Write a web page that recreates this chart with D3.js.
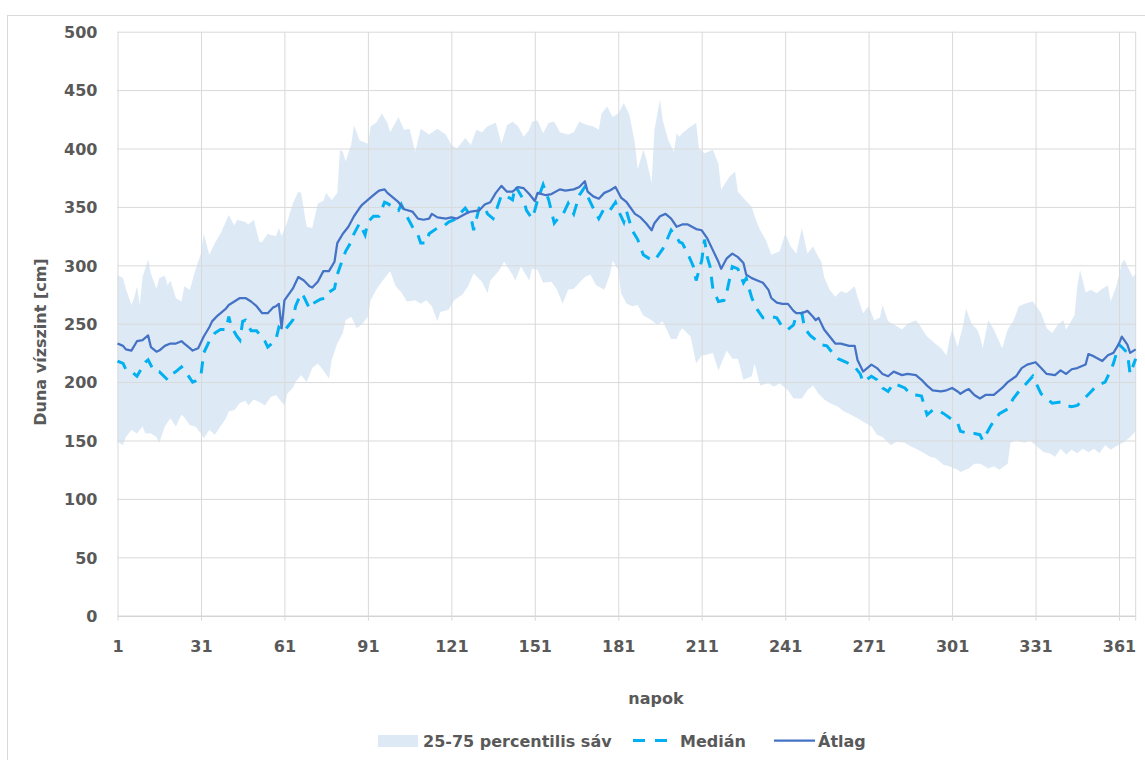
<!DOCTYPE html>
<html>
<head>
<meta charset="utf-8">
<script src="https://cdn.jsdelivr.net/npm/d3@7"></script>
<style>
  body { margin: 0; background: #fff; }
  text { font-family: "DejaVu Sans", sans-serif; font-weight: bold; fill: #595959; }
</style>
</head>
<body>
<div id="chart"></div>
<script>
// Tick values
var xTicks = [1, 31, 61, 91, 121, 151, 181, 211, 241, 271, 301, 331, 361];
var yTicks = [0, 50, 100, 150, 200, 250, 300, 350, 400, 450, 500];

// Átlag (mean), [day, cm]
var atlag = [[1,233],[3,231],[4,228],[6,227],[8,235],[10,236],[12,240],[13,230],[15,226],[16,227],[18,231],[20,233],[22,233],[24,235],[25,233],[27,229],[28,227],[30,229],[32,239],[34,247],[35,252],[37,257],[40,263],[41,266],[43,269],[45,272],[47,272],[49,269],[51,265],[53,259],[55,259],[57,264],[58,265],[59,267],[60,246],[61,270],[64,280],[66,290],[68,287],[70,282],[71,281],[73,286],[75,295],[77,295],[79,303],[80,319],[82,327],[84,333],[86,342],[88,349],[89,352],[91,356],[93,360],[95,364],[97,365],[98,362],[99,360],[102,354],[104,348],[107,346],[109,340],[111,339],[113,340],[114,344],[116,341],[119,340],[121,341],[123,340],[126,344],[128,346],[131,347],[133,352],[135,354],[137,362],[139,368],[141,363],[143,363],[145,367],[147,366],[149,361],[151,355],[152,362],[155,360],[157,361],[160,365],[162,364],[165,365],[167,367],[169,372],[170,363],[172,359],[174,357],[176,362],[178,364],[180,367],[182,358],[184,354],[187,344],[189,341],[191,336],[193,330],[194,336],[196,342],[198,344],[200,340],[202,333],[204,335],[206,335],[209,331],[211,330],[213,323],[215,313],[217,303],[218,297],[220,306],[222,310],[224,307],[226,302],[227,292],[229,289],[231,287],[233,285],[235,279],[236,272],[238,268],[240,267],[242,267],[244,261],[245,259],[247,259],[249,261],[251,256],[252,253],[253,255],[255,245],[257,239],[259,233],[261,233],[264,231],[266,231],[267,219],[269,209],[272,215],[274,212],[276,207],[278,205],[280,209],[283,206],[285,207],[288,206],[290,202],[292,197],[294,193],[297,192],[299,193],[301,195],[303,192],[304,190],[306,193],[307,194],[309,189],[311,186],[313,189],[316,189],[319,195],[321,200],[324,205],[326,212],[328,215],[331,217],[333,212],[335,207],[338,206],[340,210],[342,207],[344,211],[346,212],[349,215],[350,224],[352,222],[355,218],[357,223],[359,225],[361,233],[362,239],[364,232],[365,225],[367,228]];

// Medián, [day, cm]
var median = [[1,218],[3,216],[4,211],[6,209],[8,205],[11,217],[12,219],[14,210],[16,209],[19,202],[20,206],[22,209],[24,213],[26,207],[28,200],[29,201],[31,206],[32,225],[34,235],[36,242],[38,245],[40,245],[41,256],[42,247],[44,239],[45,236],[46,252],[47,253],[49,244],[51,244],[54,235],[55,230],[56,232],[57,235],[58,237],[59,247],[61,243],[62,247],[64,253],[65,265],[67,276],[68,273],[70,263],[71,267],[74,271],[76,272],[77,277],[79,280],[80,292],[81,299],[83,312],[85,320],[86,327],[88,336],[90,326],[91,337],[93,342],[95,342],[97,354],[98,353],[100,350],[102,347],[103,352],[105,342],[107,333],[109,326],[110,319],[112,319],[113,327],[116,332],[118,333],[120,337],[122,339],[124,344],[126,349],[128,342],[129,330],[131,349],[133,350],[134,344],[136,340],[137,346],[139,360],[141,359],[143,356],[144,368],[146,360],[147,356],[148,347],[150,340],[151,347],[152,356],[154,369],[156,356],[158,336],[160,342],[161,343],[163,353],[165,344],[167,360],[169,367],[170,359],[172,349],[174,340],[176,349],[178,347],[180,354],[181,347],[183,337],[184,346],[186,330],[188,322],[190,309],[192,306],[194,304],[197,314],[198,319],[200,330],[202,324],[203,320],[204,319],[206,310],[208,299],[209,287],[211,304],[212,322],[213,307],[214,299],[215,280],[217,269],[219,270],[220,277],[222,299],[224,297],[226,285],[227,289],[229,272],[231,262],[233,255],[235,255],[236,256],[238,255],[240,247],[242,245],[244,249],[245,257],[247,259],[248,246],[250,240],[252,236],[254,232],[256,231],[258,225],[260,220],[263,217],[266,213],[268,207],[269,200],[272,205],[274,202],[276,195],[278,192],[280,199],[282,197],[284,195],[286,190],[288,189],[290,188],[292,172],[294,176],[296,176],[298,173],[301,168],[303,165],[304,158],[307,156],[309,156],[311,155],[312,150],[315,163],[318,173],[321,177],[323,186],[325,192],[327,197],[330,205],[331,200],[333,190],[335,186],[337,182],[340,183],[342,180],[344,179],[346,180],[349,187],[351,192],[353,197],[356,200],[358,210],[359,216],[361,232],[362,230],[364,225],[365,207],[367,220]];

// 75th percentile (top of band), [day, cm]
var p75 = [[1,292],[3,289],[4,280],[6,266],[7,272],[8,282],[9,266],[10,290],[12,305],[13,293],[15,280],[16,289],[18,291],[19,283],[20,287],[22,272],[24,269],[25,282],[27,279],[29,296],[31,310],[32,327],[34,309],[36,319],[38,327],[41,343],[43,334],[44,339],[47,337],[48,335],[50,339],[52,320],[53,320],[55,327],[56,326],[58,325],[59,332],[60,325],[62,337],[64,353],[66,363],[67,362],[69,333],[71,332],[73,353],[75,355],[76,362],[78,356],[80,362],[81,399],[82,397],[83,389],[85,403],[86,420],[88,407],[91,404],[92,419],[94,422],[96,430],[98,422],[99,414],[102,427],[104,416],[106,417],[108,397],[110,417],[113,412],[116,417],[119,412],[121,403],[123,400],[126,409],[128,403],[130,416],[132,414],[134,419],[137,422],[139,404],[141,420],[143,423],[145,419],[147,410],[149,416],[150,423],[152,424],[154,413],[156,422],[158,423],[160,414],[163,412],[165,414],[167,423],[170,420],[172,419],[174,416],[175,430],[177,436],[179,427],[181,430],[183,439],[185,429],[186,417],[187,404],[188,382],[190,399],[191,392],[193,370],[194,416],[196,442],[197,424],[199,407],[201,397],[202,413],[203,410],[204,413],[206,417],[209,422],[210,400],[212,396],[215,399],[217,387],[218,365],[221,376],[223,380],[224,363],[227,355],[229,350],[230,342],[232,330],[234,322],[236,309],[239,312],[241,327],[243,316],[245,310],[247,332],[249,310],[251,316],[253,307],[254,303],[255,290],[257,279],[259,273],[261,278],[263,276],[266,282],[267,273],[269,259],[271,265],[273,253],[275,255],[276,266],[278,252],[281,248],[283,245],[285,250],[288,253],[289,250],[292,239],[294,235],[297,229],[299,223],[300,236],[301,245],[303,230],[305,249],[306,263],[308,250],[310,245],[311,239],[312,229],[314,253],[316,245],[319,229],[321,245],[323,252],[325,265],[327,267],[330,269],[333,259],[335,246],[337,242],[339,249],[341,253],[342,245],[345,257],[346,282],[347,296],[349,277],[351,279],[353,276],[355,280],[357,283],[358,269],[360,282],[362,302],[363,305],[364,299],[366,290],[367,293]];

// 25th percentile (bottom of band), [day, cm]
var p25 = [[1,149],[3,146],[4,153],[6,159],[8,156],[10,162],[11,156],[13,156],[15,153],[16,148],[18,162],[20,169],[22,162],[24,172],[25,170],[27,163],[29,162],[31,156],[32,152],[34,159],[36,155],[38,162],[40,169],[41,175],[43,176],[45,182],[47,184],[48,180],[50,185],[52,183],[54,180],[56,187],[58,189],[59,186],[61,180],[62,190],[64,195],[65,200],[67,206],[69,200],[71,212],[73,216],[75,210],[77,203],[78,219],[80,233],[82,242],[83,253],[85,256],[87,246],[89,250],[91,256],[92,270],[94,279],[96,286],[98,292],[99,295],[101,282],[103,277],[105,269],[108,270],[110,267],[112,270],[114,265],[116,252],[117,260],[120,262],[122,270],[125,275],[127,282],[129,293],[132,286],[134,276],[135,287],[138,295],[140,303],[143,292],[144,287],[146,299],[149,287],[150,297],[152,296],[154,285],[157,286],[159,279],[161,267],[163,279],[165,280],[167,285],[169,290],[171,292],[173,283],[176,279],[178,292],[179,304],[181,296],[182,276],[184,267],[186,265],[188,266],[190,257],[193,253],[195,249],[197,252],[200,237],[202,237],[203,243],[204,246],[207,239],[209,216],[211,223],[212,223],[215,225],[217,210],[220,227],[222,220],[224,220],[226,202],[229,205],[230,216],[232,197],[235,199],[237,196],[239,199],[242,193],[244,186],[247,186],[249,193],[251,197],[253,190],[255,185],[257,182],[260,179],[262,175],[264,173],[267,169],[269,166],[272,162],[274,155],[276,153],[279,146],[281,149],[284,148],[286,145],[288,143],[291,139],[293,136],[295,135],[298,129],[300,128],[303,125],[304,123],[307,126],[309,130],[311,130],[312,129],[314,126],[316,128],[318,125],[321,130],[322,148],[324,150],[327,148],[329,150],[331,146],[334,140],[336,139],[338,136],[340,143],[342,138],[344,142],[346,139],[348,143],[350,140],[352,143],[354,139],[356,146],[358,142],[360,145],[363,149],[365,153],[367,158]];

// Legend labels
var legendLabels = ["25-75 percentilis sáv", "Medián", "Átlag"];

var svgWidth = 1145;
var svgHeight = 760;

var margin = {top: 31.7, bottom: 144.3, left: 117.5, right: 9.3};

var height = svgHeight - margin.top - margin.bottom;
var width = svgWidth - margin.left - margin.right;

var bandFill = "#9dc3e6";
var bandOpacity = 0.35;
var medianColor = "#00b0f0";
var meanColor = "#4472c4";

// Append SVG element
var chart = d3.select("#chart")
    .append("svg")
    .attr("width", svgWidth)
    .attr("height", svgHeight);

// Outer chart border
chart.append("rect")
    .attr("x", 7.5)
    .attr("y", 15.5)
    .attr("width", 1160)
    .attr("height", 780)
    .attr("fill", "none")
    .attr("stroke", "#d9d9d9");

var chartGroup = chart.append("g")
    .attr("transform", `translate(${margin.left}, ${margin.top})`);

// Scales
var xScale = d3.scaleLinear()
    .domain([1, 367])
    .range([0, width]);

var yScale = d3.scaleLinear()
    .domain([0, 500])
    .range([height, 0]);

// Band (drawn first, gridlines show through it)
var bandLine = d3.line()
    .x(d => xScale(d[0]))
    .y(d => yScale(d[1]));

var bandPoints = p75.concat(p25.slice().reverse());

chartGroup.append("path")
    .attr("d", bandLine(bandPoints) + "Z")
    .attr("fill", bandFill)
    .attr("fill-opacity", bandOpacity)
    .attr("stroke", "none");

// Y axis with horizontal gridlines
var yAxis = d3.axisLeft(yScale)
    .tickValues(yTicks)
    .tickSize(-width)
    .tickPadding(20);

var yAxisGroup = chartGroup.append("g")
    .call(yAxis);

yAxisGroup.select(".domain").remove();
yAxisGroup.selectAll(".tick line")
    .attr("stroke", d => d === 0 ? "#bfbfbf" : "#d9d9d9")
    .attr("stroke-width", 1);
yAxisGroup.selectAll(".tick text")
    .attr("dy", "0.36em")
    .style("font-size", "16px")
    .style("font-family", "DejaVu Sans, sans-serif")
    .style("font-weight", "bold")
    .attr("fill", "#595959");

// X axis with vertical gridlines
var xAxis = d3.axisBottom(xScale)
    .tickValues(xTicks)
    .tickSizeOuter(0);

var xAxisGroup = chartGroup.append("g")
    .attr("transform", `translate(0, ${height})`)
    .call(xAxis);

xAxisGroup.select(".domain").remove();
xAxisGroup.selectAll(".tick line")
    .attr("y1", -height)
    .attr("y2", 5)
    .attr("stroke", "#d9d9d9");
xAxisGroup.selectAll(".tick text")
    .attr("y", 36)
    .attr("dy", 0)
    .style("font-size", "16px")
    .style("font-family", "DejaVu Sans, sans-serif")
    .style("font-weight", "bold")
    .attr("fill", "#595959");

// Right edge of the plot
chartGroup.append("line")
    .attr("x1", xScale(367)).attr("x2", xScale(367))
    .attr("y1", 0).attr("y2", height + 5)
    .attr("stroke", "#d9d9d9");

// Median line
var line = d3.line()
    .x(d => xScale(d[0]))
    .y(d => yScale(d[1]));

chartGroup.append("path")
    .datum(median)
    .attr("d", line)
    .attr("fill", "none")
    .attr("stroke", medianColor)
    .attr("stroke-width", 3)
    .attr("stroke-dasharray", "12,9");

// Mean line
chartGroup.append("path")
    .datum(atlag)
    .attr("d", line)
    .attr("fill", "none")
    .attr("stroke", meanColor)
    .attr("stroke-width", 2.25)
    .attr("stroke-linejoin", "round");

// Y axis title
chart.append("text")
    .attr("transform", "translate(46, 342) rotate(-90)")
    .attr("text-anchor", "middle")
    .style("font-size", "16px")
    .text("Duna vízszint [cm]");

// X axis title
chart.append("text")
    .attr("x", 656)
    .attr("y", 704)
    .attr("text-anchor", "middle")
    .style("font-size", "16px")
    .text("napok");

// Legend
var legend = chart.append("g")
    .attr("transform", "translate(0, 747)");

legend.append("rect")
    .attr("x", 378).attr("y", -12)
    .attr("width", 40).attr("height", 12)
    .attr("fill", bandFill)
    .attr("fill-opacity", bandOpacity);

legend.append("text")
    .attr("x", 423)
    .style("font-size", "16px")
    .text(legendLabels[0]);

legend.append("line")
    .attr("x1", 633).attr("x2", 667)
    .attr("y1", -6.5).attr("y2", -6.5)
    .attr("stroke", medianColor)
    .attr("stroke-width", 3)
    .attr("stroke-dasharray", "12,10");

legend.append("text")
    .attr("x", 680)
    .style("font-size", "16px")
    .text(legendLabels[1]);

legend.append("line")
    .attr("x1", 774).attr("x2", 815)
    .attr("y1", -6.5).attr("y2", -6.5)
    .attr("stroke", meanColor)
    .attr("stroke-width", 2.25);

legend.append("text")
    .attr("x", 818)
    .style("font-size", "16px")
    .text(legendLabels[2]);
</script>
</body>
</html>
